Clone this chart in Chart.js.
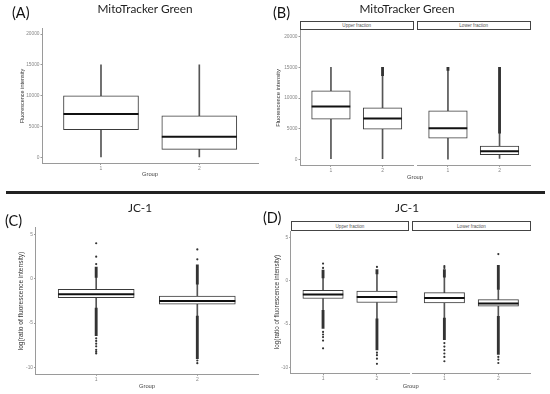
<!DOCTYPE html>
<html>
<head>
<meta charset="utf-8">
<script src="https://cdn.jsdelivr.net/npm/chart.js@4.4.1/dist/chart.umd.min.js"></script>
<style>
  html, body { margin:0; padding:0; background:#fff; }
  body { width:550px; height:394px; position:relative; overflow:hidden; font-family:'Liberation Sans', Arial, sans-serif; }
  canvas { position:absolute; }
  .t { position:absolute; white-space:nowrap; transform:translate(-50%,-50%); line-height:1; z-index:5; }
  .rot { transform:translate(-50%,-50%) rotate(-90deg); }
  .title { font-family:Lato, 'Open Sans', sans-serif; font-size:11.8px; color:#222; }
  .lab { position:absolute; white-space:nowrap; transform:translateY(-50%); line-height:1; font-family:Lato, 'Open Sans', sans-serif; font-size:14.5px; color:#111; z-index:5; }
  .strip { position:absolute; box-sizing:border-box; border:1px solid #444; background:#fff; font-size:4.6px; color:#555; display:flex; align-items:center; justify-content:center; z-index:4; }
  .sep { position:absolute; left:6px; top:191px; width:539px; height:2.5px; background:#222; }
  .xt { font-size:5.8px; color:#444; }
  .yt { color:#333; }
</style>
</head>
<body>
<div class="lab" style="left:12px;top:13px;">(A)</div>
<div class="t title" style="left:145px;top:9px;">MitoTracker Green</div>
<div class="t yt rot" style="left:22.7px;top:96px;font-size:5.5px;">Fluorescence intensity</div>
<div class="t xt" style="left:150px;top:175px;">Group</div>

<div class="lab" style="left:273px;top:13px;">(B)</div>
<div class="t title" style="left:407px;top:9px;">MitoTracker Green</div>
<div class="strip" style="left:300px;top:20.7px;width:113.5px;height:9.5px;">Upper fraction</div>
<div class="strip" style="left:417px;top:20.7px;width:113.5px;height:9.5px;">Lower fraction</div>
<div class="t yt rot" style="left:279px;top:98px;font-size:5.8px;">Fluorescence intensity</div>
<div class="t xt" style="left:415px;top:177.7px;">Group</div>

<div class="sep"></div>

<div class="lab" style="left:5px;top:221px;">(C)</div>
<div class="t title" style="left:140px;top:208px;">JC-1</div>
<div class="t yt rot" style="left:21px;top:301px;font-size:6.6px;">log(ratio of fluorescence intensity)</div>
<div class="t xt" style="left:147px;top:387px;">Group</div>

<div class="lab" style="left:263px;top:218px;">(D)</div>
<div class="t title" style="left:407px;top:208px;">JC-1</div>
<div class="strip" style="left:290.7px;top:221px;width:118.6px;height:10px;">Upper fraction</div>
<div class="strip" style="left:412.3px;top:221px;width:118.4px;height:10px;">Lower fraction</div>
<div class="t yt rot" style="left:277px;top:302px;font-size:6.3px;">log(ratio of fluorescence intensity)</div>
<div class="t xt" style="left:410.7px;top:386.7px;">Group</div>

<canvas id="cA" width="262" height="165" style="left:0px;top:20px;"></canvas>
<canvas id="cBU" width="140" height="166" style="left:275px;top:22px;"></canvas>
<canvas id="cBL" width="115" height="166" style="left:417px;top:22px;"></canvas>
<canvas id="cC" width="262" height="179" style="left:0px;top:215px;"></canvas>
<canvas id="cDU" width="141" height="179" style="left:270px;top:215px;"></canvas>
<canvas id="cDL" width="120" height="179" style="left:412.3px;top:215px;"></canvas>

<script>
// ---------- data ----------
const groups = [1, 2];
const groupLabels = ['1', '2'];
const yTicksMito = [0, 5000, 10000, 15000, 20000];
const yTicksJC = [-10, -5, 0, 5];

// (A) MitoTracker Green
const A_q1 = [4500, 1300];
const A_median = [7050, 3350];
const A_q3 = [10000, 6750];
const A_whiskLow = [0, 0];
const A_whiskHigh = [15000, 15000];

// (B) MitoTracker Green, upper fraction
const BU_q1 = [6550, 4900];
const BU_median = [8600, 6650];
const BU_q3 = [11150, 8400];
const BU_whiskLow = [0, 0];
const BU_whiskHigh = [15000, 13650];
const BU_outHigh = [null, [13650, 15000]];

// (B) MitoTracker Green, lower fraction
const BL_q1 = [3450, 750];
const BL_median = [5050, 1300];
const BL_q3 = [7900, 2150];
const BL_whiskLow = [0, 150];
const BL_whiskHigh = [14500, 4250];
const BL_outHigh = [[14500, 15000], [4250, 15000]];

// (C) JC-1
const C_q1 = [-2.14, -2.85];
const C_median = [-1.76, -2.51];
const C_q3 = [-1.19, -1.95];
const C_whiskLow = [-3.3, -4.2];
const C_whiskHigh = [0.16, -0.6];
const C_outHigh = [[0.16, 1.3], [-0.6, 1.55]];
const C_outLow = [[-6.4, -3.3], [-9.0, -4.2]];
const C_points1 = [3.99, 2.48, 1.65, -6.7, -7.0, -7.3, -7.6, -8.0, -8.2, -8.4];
const C_points2 = [3.3, 2.18, -9.2, -9.5];

// (D) JC-1, upper fraction
const DU_q1 = [-2.04, -2.5];
const DU_median = [-1.58, -1.85];
const DU_q3 = [-1.08, -1.19];
const DU_whiskLow = [-3.4, -4.4];
const DU_whiskHigh = [0.35, 0.8];
const DU_outHigh = [[0.35, 1.25], [0.8, 1.3]];
const DU_outLow = [[-5.5, -3.4], [-8.0, -4.4]];
const DU_points1 = [2.0, 1.5, -5.9, -6.2, -6.5, -6.9, -7.8];
const DU_points2 = [1.62, -8.3, -8.6, -9.0, -9.6];

// (D) JC-1, lower fraction
const DL_q1 = [-2.54, -2.93];
const DL_median = [-1.97, -2.62];
const DL_q3 = [-1.35, -2.16];
const DL_whiskLow = [-4.3, -4.1];
const DL_whiskHigh = [0.44, -1.0];
const DL_outHigh = [[0.44, 1.3], [-1.0, 1.8]];
const DL_outLow = [[-6.8, -4.3], [-8.5, -4.1]];
const DL_points1 = [1.5, 1.7, -7.2, -7.6, -8.0, -8.4, -8.8, -9.3];
const DL_points2 = [3.1, -8.8, -9.1, -9.5];

// ---------- drawing ----------
Chart.defaults.font.family = "'Liberation Sans', Arial, sans-serif";

const AXIS = '#9a9a9a';

function rangeData(ranges) {
  const out = [];
  if (!ranges) return out;
  groups.forEach((g, i) => { if (ranges[i]) out.push({ x: g, y: ranges[i] }); });
  return out;
}

function buildDatasets(s, boxPx) {
  const ds = [];
  const barBase = { type: 'bar', grouped: false, borderWidth: 0, borderSkipped: false };
  ds.push(Object.assign({}, barBase, { order: 6, barThickness: 1, backgroundColor: '#555',
    data: groups.map((g, i) => ({ x: g, y: [s.wl[i], s.q1[i]] })) }));
  ds.push(Object.assign({}, barBase, { order: 6, barThickness: 1, backgroundColor: '#555',
    data: groups.map((g, i) => ({ x: g, y: [s.q3[i], s.wh[i]] })) }));
  if (s.outHigh) ds.push(Object.assign({}, barBase, { order: 5, barThickness: 2.2, backgroundColor: '#333', data: rangeData(s.outHigh) }));
  if (s.outLow) ds.push(Object.assign({}, barBase, { order: 5, barThickness: 2.2, backgroundColor: '#333', data: rangeData(s.outLow) }));
  if (s.points) {
    const pts = [];
    s.points.forEach((list, i) => list.forEach(v => pts.push({ x: groups[i], y: v })));
    ds.push({ type: 'line', order: 4, showLine: false, data: pts, pointRadius: 1.1,
      pointBackgroundColor: '#333', pointBorderColor: '#333', pointBorderWidth: 0 });
  }
  ds.push(Object.assign({}, barBase, { order: 3, barThickness: boxPx, backgroundColor: '#fff',
    borderColor: '#3a3a3a', borderWidth: 1,
    data: groups.map((g, i) => ({ x: g, y: [s.q1[i], s.q3[i]] })) }));
  ds.push({ type: 'line', order: 1, showLine: false, pointStyle: 'line', pointRadius: boxPx / 2,
    pointBorderWidth: 2, pointBorderColor: '#111', borderColor: '#111',
    data: groups.map((g, i) => ({ x: g, y: s.med[i] })) });
  return ds;
}

function makeChart(id, s, g) {
  const ctx = document.getElementById(id);
  new Chart(ctx, {
    type: 'bar',
    data: { datasets: buildDatasets(s, g.boxPx) },
    options: {
      responsive: false, maintainAspectRatio: false, animation: false, events: [],
      layout: { autoPadding: false, padding: { top: g.padTop, right: g.padRight, left: 0, bottom: 0 } },
      plugins: { legend: { display: false }, tooltip: { enabled: false }, title: { display: false } },
      scales: {
        x: {
          type: 'linear', min: 0.4, max: 2.6, offset: false,
          afterBuildTicks: sc => { sc.ticks = groups.map(v => ({ value: v })); },
          afterFit: sc => { sc.height = g.xHeight; },
          ticks: { callback: (v) => groupLabels[groups.indexOf(v)], font: { size: 5 }, color: '#888',
            padding: g.xTickPad, maxRotation: 0, autoSkip: false },
          grid: { display: true, drawOnChartArea: false, drawTicks: true, tickLength: 1.5, color: AXIS, offset: false },
          border: { display: true, color: AXIS, width: 1 },
          title: { display: false }
        },
        y: {
          type: 'linear', min: g.yMin, max: g.yMax, display: g.showY,
          afterBuildTicks: sc => { sc.ticks = g.yTicks.map(v => ({ value: v })); },
          afterFit: sc => { sc.width = g.yWidth; },
          ticks: { callback: (v) => String(v), font: { size: 4.8 }, color: '#888', padding: 1, autoSkip: false },
          grid: { display: true, drawOnChartArea: false, drawTicks: true, tickLength: 1.5, color: AXIS },
          border: { display: true, color: AXIS, width: 1 },
          title: { display: false }
        }
      }
    }
  });
}

// (A)
makeChart('cA',
  { q1: A_q1, med: A_median, q3: A_q3, wl: A_whiskLow, wh: A_whiskHigh },
  { boxPx: 75, padTop: 8, padRight: 3.7, yWidth: 42, xHeight: 21.5, xTickPad: 1,
    yMin: -1000, yMax: 21000, yTicks: yTicksMito, showY: true });

// (B) upper / lower
makeChart('cBU',
  { q1: BU_q1, med: BU_median, q3: BU_q3, wl: BU_whiskLow, wh: BU_whiskHigh, outHigh: BU_outHigh },
  { boxPx: 38.6, padTop: 8.6, padRight: 1.5, yWidth: 25, xHeight: 22.6, xTickPad: 1,
    yMin: -1000, yMax: 21000, yTicks: yTicksMito, showY: true });
makeChart('cBL',
  { q1: BL_q1, med: BL_median, q3: BL_q3, wl: BL_whiskLow, wh: BL_whiskHigh, outHigh: BL_outHigh },
  { boxPx: 38.6, padTop: 8.6, padRight: 1.5, yWidth: 0, xHeight: 22.6, xTickPad: 1,
    yMin: -1000, yMax: 21000, yTicks: yTicksMito, showY: false });

// (C)
makeChart('cC',
  { q1: C_q1, med: C_median, q3: C_q3, wl: C_whiskLow, wh: C_whiskHigh,
    outHigh: C_outHigh, outLow: C_outLow, points: [C_points1, C_points2] },
  { boxPx: 76, padTop: 12.6, padRight: 4, yWidth: 35.5, xHeight: 19.7, xTickPad: 0.8,
    yMin: -10.75, yMax: 5.75, yTicks: yTicksJC, showY: true });

// (D) upper / lower
makeChart('cDU',
  { q1: DU_q1, med: DU_median, q3: DU_q3, wl: DU_whiskLow, wh: DU_whiskHigh,
    outHigh: DU_outHigh, outLow: DU_outLow, points: [DU_points1, DU_points2] },
  { boxPx: 40.4, padTop: 16.2, padRight: 1.7, yWidth: 20.7, xHeight: 20.2, xTickPad: 0.8,
    yMin: -10.75, yMax: 5.75, yTicks: yTicksJC, showY: true });
makeChart('cDL',
  { q1: DL_q1, med: DL_median, q3: DL_q3, wl: DL_whiskLow, wh: DL_whiskHigh,
    outHigh: DL_outHigh, outLow: DL_outLow, points: [DL_points1, DL_points2] },
  { boxPx: 40.4, padTop: 16.2, padRight: 1.3, yWidth: 0, xHeight: 20.2, xTickPad: 0.8,
    yMin: -10.75, yMax: 5.75, yTicks: yTicksJC, showY: false });
</script>
</body>
</html>
